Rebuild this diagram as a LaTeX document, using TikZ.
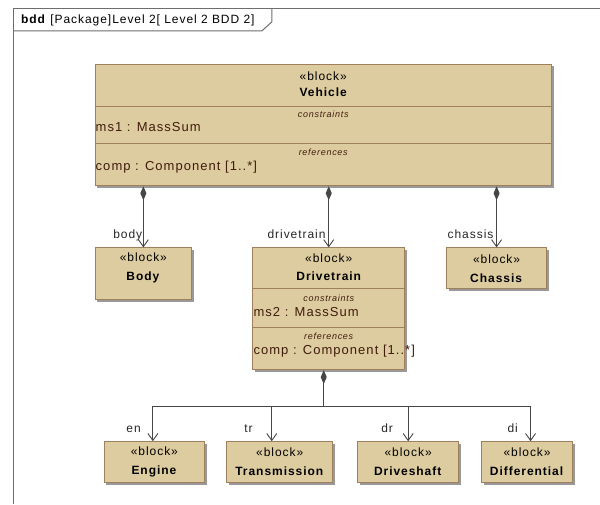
\documentclass[tikz,border=0pt]{standalone}
\usepackage{fontspec}
\setmainfont{Liberation Sans}[LetterSpace=8]
\usepackage{tikz}
\usetikzlibrary{positioning, arrows.meta, shadows}

\definecolor{blockfill}{RGB}{221,204,160}
\definecolor{blockline}{RGB}{160,128,92}
\definecolor{itemtext}{RGB}{64,28,12}
\definecolor{linkgray}{RGB}{70,70,70}
\definecolor{framegray}{RGB}{110,110,110}

\begin{document}
\begin{tikzpicture}[
    x=1pt, y=-1pt,
    blockbox/.style={draw=blockline, fill=blockfill, line width=0.8pt, inner sep=0pt,
      drop shadow={shadow xshift=2pt, shadow yshift=-2pt, fill=black!40, opacity=1}},
    smallblock/.style={blockbox, minimum height=41pt, align=center,
      font=\fontsize{12}{19}\selectfont},
    stereo/.style={font=\fontsize{12}{14}\selectfont, inner sep=0pt},
    blocktitle/.style={font=\fontsize{12}{14}\selectfont\bfseries, inner sep=0pt},
    comphead/.style={font=\fontsize{9}{11}\selectfont\itshape, text=itemtext, inner sep=0pt},
    compitem/.style={font=\fontsize{13}{15}\selectfont, text=itemtext, inner sep=1pt, anchor=west},
    compline/.style={draw=blockline, line width=1.2pt},
    rolename/.style={font=\fontsize{12}{14}\selectfont, text=black!85, inner sep=0pt, anchor=base east},
    partof/.style={draw=linkgray, line width=0.9pt,
      {Diamond[length=14pt,width=6pt]}-{Straight Barb[length=7pt,width=10pt]}},
    trunk/.style={draw=linkgray, line width=1.4pt, {Diamond[length=14pt,width=6pt]}-},
    branch/.style={draw=linkgray, line width=0.9pt, -{Straight Barb[length=7pt,width=10pt]}},
]
  \fill[white] (0,0) rectangle (600,504);

  % frame
  \draw[framegray, line width=1pt] (14,504) -- (14,9) -- (600,9);
  \draw[framegray, line width=1pt] (14,31) -- (262,31) -- (272,22) -- (272,9);
  \node[anchor=west, inner sep=0pt, font=\fontsize{12}{14}\selectfont] (ttl) at (21,20)
    {\textbf{bdd} [Package]Level 2[ Level 2 BDD 2]};

  % Vehicle
  \node[blockbox, minimum width=457pt, minimum height=122pt] (veh) at (323.5,125) {};
  \node[stereo] at ([yshift=-13pt]veh.north) {«block»};
  \node[blocktitle] at ([yshift=-28.5pt]veh.north) {Vehicle};
  \draw[compline] ([yshift=-43pt]veh.north west) -- ([yshift=-43pt]veh.north east);
  \node[comphead] at ([yshift=-51pt]veh.north) {constraints};
  \node[compitem] at ([yshift=-64pt]veh.north west) {ms1 : MassSum};
  \draw[compline] ([yshift=-80pt]veh.north west) -- ([yshift=-80pt]veh.north east);
  \node[comphead] at ([yshift=-89pt]veh.north) {references};
  \node[compitem] at ([yshift=-104pt]veh.north west) {comp : Component [1..*]};

  % parts of Vehicle
  \node[smallblock, minimum width=97pt, minimum height=52pt, text depth=14.5pt] (body) at (143.5,274)
    {«block»\\\textbf{Body}};
  \node[blockbox, minimum width=152pt, minimum height=122pt] (dtr) at (329,309) {};
  \node[stereo] at ([yshift=-11pt]dtr.north) {«block»};
  \node[blocktitle] at ([yshift=-29pt]dtr.north) {Drivetrain};
  \draw[compline] ([yshift=-41pt]dtr.north west) -- ([yshift=-41pt]dtr.north east);
  \node[comphead] at ([yshift=-51pt]dtr.north) {constraints};
  \node[compitem] at ([yshift=-65pt]dtr.north west) {ms2 : MassSum};
  \draw[compline] ([yshift=-80pt]dtr.north west) -- ([yshift=-80pt]dtr.north east);
  \node[comphead] at ([yshift=-89pt]dtr.north) {references};
  \node[compitem] at ([yshift=-104pt]dtr.north west) {comp : Component [1..*]};
  \node[smallblock, minimum width=100pt] (chs) at (497,268.5) {«block»\\\textbf{Chassis}};

  \draw[partof] (body.north |- veh.south) -- (body.north);
  \draw[partof] (dtr.north |- veh.south) -- (dtr.north);
  \draw[partof] (chs.north |- veh.south) -- (chs.north);
  \node[rolename] at ([xshift=-1pt,yshift=9pt]body.north) {body};
  \node[rolename] at ([xshift=-3pt,yshift=9pt]dtr.north) {drivetrain};
  \node[rolename] at ([xshift=-3pt,yshift=9pt]chs.north) {chassis};

  % parts of Drivetrain
  \node[smallblock, minimum width=101pt] (eng) at (154.5,462.5) {«block»\\\textbf{Engine}};
  \node[smallblock, minimum width=106pt] (trn) at (280,462.5) {«block»\\\textbf{Transmission}};
  \node[smallblock, minimum width=101pt] (dsh) at (408.5,462.5) {«block»\\\textbf{Driveshaft}};
  \node[smallblock, minimum width=91pt] (dif) at (527.5,462.5) {«block»\\\textbf{Differential}};

  \coordinate (fork) at (324,407);
  \draw[trunk] ([xshift=-5pt]dtr.south) -- (fork);
  \draw[branch] (fork) -| ([xshift=-1.5pt]eng.north);
  \draw[branch] (fork) -| ([xshift=-8pt]trn.north);
  \draw[branch] (fork) -| (dsh.north);
  \draw[branch] (fork) -| ([xshift=3.5pt]dif.north);
  \node[rolename] at ([xshift=-13.5pt,yshift=9pt]eng.north) {en};
  \node[rolename] at ([xshift=-27pt,yshift=9pt]trn.north) {tr};
  \node[rolename] at ([xshift=-15pt,yshift=9pt]dsh.north) {dr};
  \node[rolename] at ([xshift=-9pt,yshift=9pt]dif.north) {di};
\end{tikzpicture}
\end{document}
